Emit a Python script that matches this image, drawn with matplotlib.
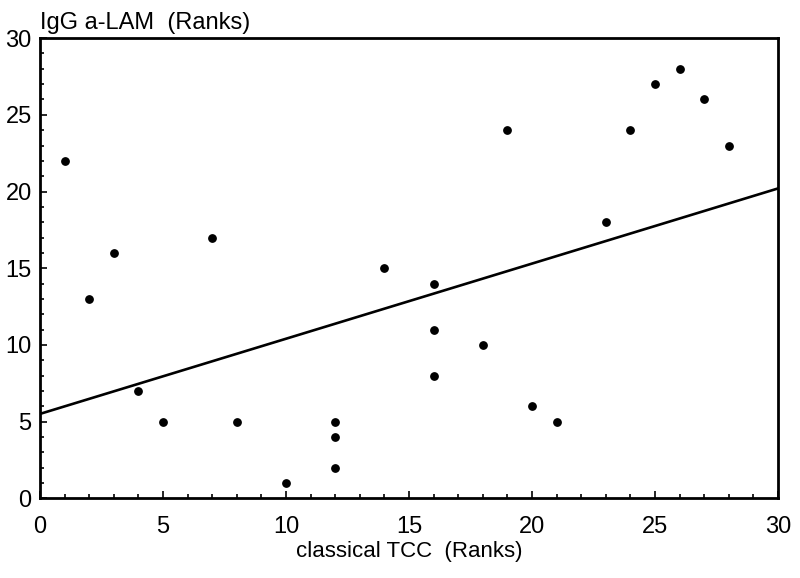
import numpy as np
import matplotlib.pyplot as plt
from matplotlib.ticker import MultipleLocator

plt.rcParams["font.family"] = ["Liberation Sans", "DejaVu Sans"]

# ranks
tcc_rank = [1, 2, 3, 4, 5, 7, 8, 10, 12, 12, 12, 14, 16, 16, 16,
            18, 19, 20, 21, 23, 24, 25, 26, 27, 28]
lam_rank = [22, 13, 16, 7, 5, 17, 5, 1, 5, 4, 2, 15, 14, 11, 8,
            10, 24, 6, 5, 18, 24, 27, 28, 26, 23]

# regression line end points
line_x = [0, 30]
line_y = [5.5, 20.2]

fig = plt.figure(figsize=(8, 5.78), dpi=100)
ax = fig.add_axes([0.05, 0.138, 0.9225, 0.796])

ax.plot(line_x, line_y, color="black", lw=1.9)
ax.scatter(tcc_rank, lam_rank, s=28, color="black", zorder=3)

ax.set_xlim(0, 30)
ax.set_ylim(0, 30)
ax.xaxis.set_major_locator(MultipleLocator(5))
ax.yaxis.set_major_locator(MultipleLocator(5))
ax.xaxis.set_minor_locator(MultipleLocator(1))
ax.yaxis.set_minor_locator(MultipleLocator(1))
ax.tick_params(which="both", direction="in", labelsize=17, width=1.2)
ax.tick_params(which="major", length=5)
ax.tick_params(axis="x", which="major", pad=13)
ax.tick_params(axis="y", which="major", pad=6)
ax.tick_params(which="minor", length=3)
for s in ax.spines.values():
    s.set_linewidth(2)

ax.set_xlabel("classical TCC  (Ranks)", fontsize=16, labelpad=2)
ax.text(0.0, 1.008, "IgG a-LAM  (Ranks)", transform=ax.transAxes,
        fontsize=17, ha="left", va="bottom")

fig.savefig("out.png", dpi=100)
